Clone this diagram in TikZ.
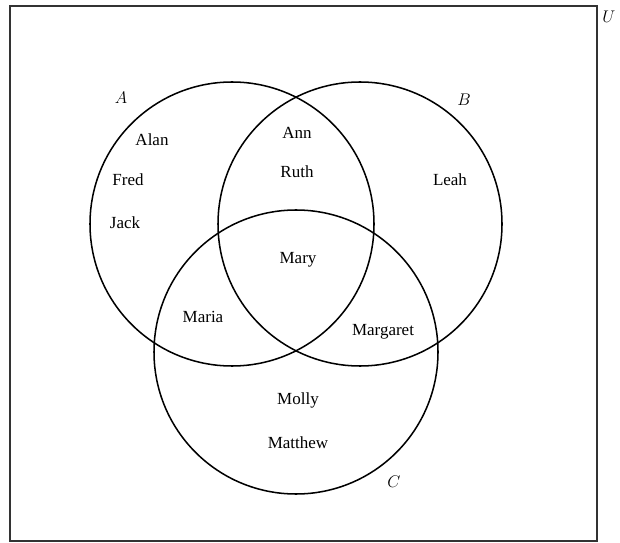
\documentclass[tikz,border=0pt]{standalone}
\usepackage{fontspec}
\setmainfont{Liberation Serif}
\usepackage{tikz}
\usetikzlibrary{positioning}
\tikzset{font=\fontsize{14.5}{17}\selectfont}
\tikzset{setcircle/.style={line width=1.3pt, black},
  frame/.style={line width=1pt, black!80},
  member/.style={inner sep=1pt},
  setlabel/.style={inner sep=1pt, font=\fontsize{15}{17}\selectfont}}

\begin{document}
\begin{tikzpicture}[x=0.03cm, y=-0.03cm]
          \useasboundingbox (0,0) rectangle (620,543);
          \draw[frame] (10,6) rectangle (597,541);
          \node[setlabel, anchor=west] (U) at (601,17) {$U$};
          \foreach \s/\cx/\cy in {A/232/224, B/360/224, C/296/352}
            \coordinate (c\s) at (\cx,\cy);
          \foreach \s in {A,B,C}
            \draw[setcircle] (c\s) circle (142);
          \node[setlabel] (lA) at (121,98) {$A$};
          \node[setlabel] (lB) at (464,100) {$B$};
          \node[setlabel] (lC) at (394,482) {$C$};
          \foreach \n/\x/\y in {Alan/152/140, Fred/128/180, Jack/125/223,
              Ann/297/133, Ruth/297/172, Leah/450/180, Mary/298/260,
              Maria/203/317, Margaret/383/332, Molly/298/400, Matthew/298/443}
            \node[member] (\n) at (\x,\y) {\n};
        \end{tikzpicture}
\end{document}
